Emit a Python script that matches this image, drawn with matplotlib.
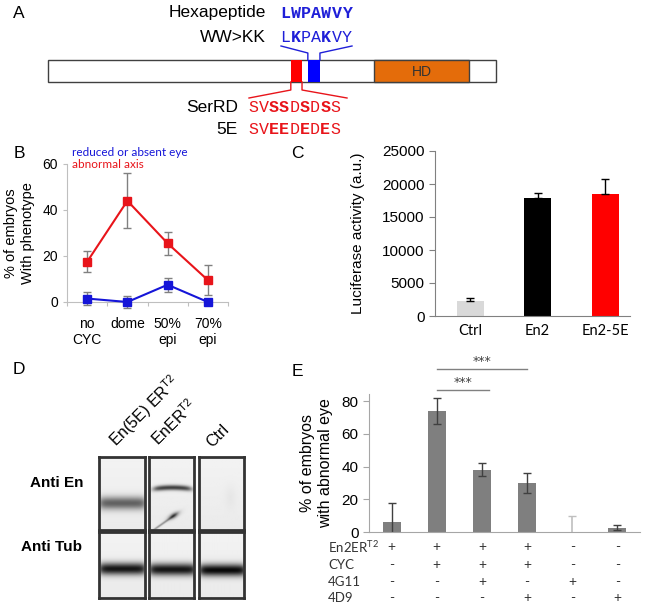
import numpy as np
import matplotlib
matplotlib.use("Agg")
import matplotlib.pyplot as plt
from matplotlib.patches import Rectangle

W, H = 646, 606

# ---- panel A: protein schematic (bar units 0-100)
domains = [("SerRD", 54.2, 56.7, "#FF0000"),
           ("hexa", 58.0, 60.7, "#0000FF"),
           ("HD", 72.8, 94.0, "#E46C0A")]
seq_names = ["Hexapeptide", "WW>KK", "SerRD", "5E"]
seq_strings = ["LWPAWVY", "LKPAKVY", "SVSSDSDSS", "SVEEDEDES"]
seq_bold = ["1111111", "0100100", "001101010", "001101010"]
seq_colors = ["#1F1FD8", "#1F1FD8", "#E8141A", "#E8141A"]

# ---- panel B
stages = ["no\nCYC", "dome", "50%\nepi", "70%\nepi"]
axis_pct = [17.5, 44, 25.5, 9.5]
axis_err = [4.5, 12, 5, 6.5]
eye_pct = [1.5, 0, 7.5, 0]
eye_err = [3, 2.5, 3, 0]

# ---- panel C
luc_labels = ["Ctrl", "En2", "En2-5E"]
luc_vals = [2300, 17900, 18500]
luc_err = [400, 700, 2300]
luc_colors = ["#D9D9D9", "#000000", "#FF0000"]

# ---- panel D: western blot lanes
lane_labels = ["En(5E) ER$^{\\mathregular{T2}}$", "EnER$^{\\mathregular{T2}}$", "Ctrl"]
# bands: (y frac, sigma px, darkness, x0 frac, x1 frac, tilt px, curve px)
en_bands = [[(0.63, 4.5, 0.55, 0.0, 1.0, 0, 0)],
            [(0.42, 1.8, 0.7, 0.1, 0.9, 0, 2.0),
             (0.90, 0.9, 0.35, 0.05, 0.55, -32, 0),
             (0.80, 2.0, 0.9, 0.47, 0.58, -20, 0)],
            [(0.55, 8.0, 0.04, 0.6, 0.75, 0, 0)]]
tub_bands = [[(0.55, 4.3, 0.85, 0.0, 1.0, 0, 0)],
             [(0.56, 4.3, 0.85, 0.0, 1.0, 0, 0)],
             [(0.57, 4.3, 0.9, 0.0, 1.0, 0, 0)]]

# ---- panel E
e_vals = [6, 74, 38, 30, 0, 2.5]
e_err = [11.5, 8, 4, 6, 10, 1.5]
table_rows = ["En2ER$^{\\mathregular{T2}}$", "CYC", "4G11", "4D9"]
table = [["+", "+", "+", "+", "-", "-"],
         ["-", "+", "+", "+", "-", "-"],
         ["-", "-", "+", "-", "+", "-"],
         ["-", "-", "-", "+", "-", "+"]]

ARIAL = "Liberation Sans"
CALIBRI = "Lato"
COURIER = "Liberation Mono"

fig = plt.figure(figsize=(W / 100, H / 100), dpi=100)
fig.patch.set_facecolor("white")


def box(x0, y0, x1, y1):
    # pixel box -> figure fraction rect
    return [x0 / W, 1 - y1 / H, (x1 - x0) / W, (y1 - y0) / H]


ov = fig.add_axes([0, 0, 1, 1], zorder=5)
ov.set_xlim(0, W)
ov.set_ylim(H, 0)
ov.axis("off")
ov.patch.set_alpha(0)

# panel letters
for lab, x, y in [("A", 19, 13), ("B", 19, 153), ("C", 297, 153),
                  ("D", 19, 370), ("E", 297, 372)]:
    ov.text(x, y, lab, fontsize=12.5, family=ARIAL, ha="center", va="center")

# ---- A
bx0, bx1, by0, by1 = 48, 496, 60, 82
sc = (bx1 - bx0) / 100.0
ov.add_patch(Rectangle((bx0, by0), bx1 - bx0, by1 - by0, fc="white",
                       ec="#404040", lw=1))
for name, s, e, c in domains:
    ec = "#404040" if name == "HD" else "none"
    ov.add_patch(Rectangle((bx0 + s * sc, by0), (e - s) * sc, by1 - by0,
                           fc=c, ec=ec, lw=1, zorder=3))
hd = domains[2]
ov.text(bx0 + (hd[1] + hd[2]) / 2 * sc, 72, "HD", fontsize=10, family=ARIAL,
        ha="center", va="center", color="#333333", zorder=4)

ser = domains[0]
hexa = domains[1]
sl, sr = bx0 + ser[1] * sc, bx0 + ser[2] * sc
hl, hr = bx0 + hexa[1] * sc, bx0 + hexa[2] * sc
ov.plot([281, hl, hl], [46, 53, by0], color="#1F1FD8", lw=1)
ov.plot([352, hr, hr], [46, 53, by0], color="#1F1FD8", lw=1)
ov.plot([sl, sl, 249], [by1, 90, 98], color="#E8141A", lw=1)
ov.plot([sr, sr, 347], [by1, 90, 98], color="#E8141A", lw=1)

seq_y = [13, 37, 107, 129]
name_x = [266, 266, 238, 238]
seq_x = [280, 280, 248, 248]
for i in range(4):
    ov.text(name_x[i], seq_y[i], seq_names[i], fontsize=12.5, family=ARIAL,
            ha="right", va="center")
    for j, ch in enumerate(seq_strings[i]):
        ov.text(seq_x[i] + j * 10.3 + 5.15, seq_y[i], ch, fontsize=12,
                family=COURIER,
                weight="bold" if seq_bold[i][j] == "1" else "normal",
                color=seq_colors[i], ha="center", va="center")

# ---- B
ax_b = fig.add_axes(box(67, 164, 228, 302))
ax_b.patch.set_alpha(0)
xb = np.arange(len(stages)) + 0.5
ax_b.errorbar(xb, axis_pct, yerr=axis_err, color="#E8141A", lw=1.5,
              marker="s", ms=6, ecolor="#808080", elinewidth=1, capsize=3,
              clip_on=False, zorder=3)
ax_b.errorbar(xb, eye_pct, yerr=eye_err, color="#1515D8", lw=1.5,
              marker="s", ms=6, ecolor="#808080", elinewidth=1, capsize=3,
              clip_on=False, zorder=3)
ax_b.set_xlim(0, 4)
ax_b.set_ylim(0, 60)
ax_b.set_yticks([0, 20, 40, 60])
ax_b.set_xticks(range(5))
ax_b.set_xticklabels([])
ax_b.set_xticks(xb, minor=True)
ax_b.set_xticklabels(stages, minor=True, fontsize=10, family=ARIAL,
                     linespacing=1.2)
ax_b.tick_params(axis="x", which="minor", length=0, pad=11)
ax_b.tick_params(axis="x", which="major", length=3, color="#BFBFBF")
ax_b.tick_params(axis="y", length=3, color="#BFBFBF", labelsize=10)
for t in ax_b.get_yticklabels():
    t.set_family(ARIAL)
for s in ["top", "right"]:
    ax_b.spines[s].set_visible(False)
for s in ["left", "bottom"]:
    ax_b.spines[s].set_color("#BFBFBF")
ax_b.set_ylabel("% of embryos\nWith phenotype", fontsize=10.5, family=ARIAL,
                labelpad=5, linespacing=1.3)
ov.text(72, 153, "reduced or absent eye", fontsize=8.5, family=CALIBRI,
        color="#1515D8", va="center")
ov.text(72, 165, "abnormal axis", fontsize=8.5, family=CALIBRI,
        color="#E8141A", va="center")

# ---- C
ax_c = fig.add_axes(box(435, 151, 630, 316))
ax_c.patch.set_alpha(0)
xc = np.arange(len(luc_labels))
ax_c.bar(xc, luc_vals, width=0.4, color=luc_colors)
ax_c.errorbar(xc, luc_vals, yerr=[[0] * 3, luc_err], fmt="none",
              ecolor="black", elinewidth=1, capsize=3)
ax_c.set_xlim(-0.52, 2.37)
ax_c.set_ylim(0, 25000)
ax_c.set_yticks(range(0, 25001, 5000))
ax_c.set_xticks(xc)
ax_c.set_xticklabels(luc_labels, fontsize=10.5, family=CALIBRI)
ax_c.tick_params(axis="x", length=0, pad=6)
ax_c.tick_params(axis="y", length=4, color="#808080", labelsize=11)
for t in ax_c.get_yticklabels():
    t.set_family(ARIAL)
for s in ["top", "right"]:
    ax_c.spines[s].set_visible(False)
for s in ["left", "bottom"]:
    ax_c.spines[s].set_color("#808080")
ax_c.set_ylabel("Luciferase activity (a.u.)", fontsize=11, family=ARIAL,
                labelpad=12)

# ---- D
lane_x = [(99, 145), (149, 194), (199, 244)]
rows_y = [(457, 530), (532, 598)]


def blot(h, w, bands):
    yy, xx = np.mgrid[0:h, 0:w].astype(float)
    img = np.full((h, w), 0.95) - 0.03 * (yy / h)
    for yc, sig, dark, x0, x1, tilt, curve in bands:
        u = xx / w
        cy = yc * h + tilt * (u - (x0 + x1) / 2) + curve * ((u - 0.5) * 2) ** 2
        prof = 1 / (1 + np.exp(-(xx - x0 * w) / 2.0))
        prof *= 1 / (1 + np.exp((xx - x1 * w) / 2.0))
        img -= dark * np.exp(-0.5 * ((yy - cy) / sig) ** 2) * prof
    return np.clip(img, 0, 1)


for r, bands_row in enumerate([en_bands, tub_bands]):
    for c in range(3):
        x0, x1 = lane_x[c]
        y0, y1 = rows_y[r]
        axb = fig.add_axes(box(x0, y0, x1, y1))
        axb.imshow(blot(y1 - y0, x1 - x0, bands_row[c]), cmap="gray",
                   vmin=0, vmax=1, aspect="auto", interpolation="bilinear")
        axb.set_xticks([])
        axb.set_yticks([])
        for s in axb.spines.values():
            s.set_color("#333333")
            s.set_linewidth(2)

ov.text(83, 483, "Anti En", fontsize=11, family=ARIAL, weight="bold",
        ha="right", va="center")
ov.text(82, 547, "Anti Tub", fontsize=11, family=ARIAL, weight="bold",
        ha="right", va="center")
for lab, (x, y) in zip(lane_labels, [(116, 447), (159, 447), (212, 448)]):
    ov.text(x, y, lab, fontsize=11.5, family=ARIAL, rotation=45,
            rotation_mode="anchor", ha="left", va="baseline")

# ---- E
ax_e = fig.add_axes(box(369, 394, 640, 532))
ax_e.patch.set_alpha(0)
xe = np.arange(len(e_vals))
ax_e.bar(xe, e_vals, width=0.4, color="#7F7F7F")
dark = [i for i in xe if i != 4]
ax_e.errorbar(xe[dark], np.array(e_vals)[dark], yerr=np.array(e_err)[dark],
              fmt="none", ecolor="#404040", elinewidth=1, capsize=3)
ax_e.errorbar([4], [e_vals[4]], yerr=[e_err[4]], fmt="none",
              ecolor="#BFBFBF", elinewidth=1.2, capsize=3)
ax_e.set_xlim(-0.5, 5.5)
ax_e.set_ylim(0, 84.4)
ax_e.set_yticks([0, 20, 40, 60, 80])
ax_e.set_xticks([])
ax_e.tick_params(axis="y", length=4, color="#A6A6A6", labelsize=11)
for t in ax_e.get_yticklabels():
    t.set_family(ARIAL)
for s in ["top", "right"]:
    ax_e.spines[s].set_visible(False)
for s in ["left", "bottom"]:
    ax_e.spines[s].set_color("#A6A6A6")
ax_e.set_ylabel("% of embryos\nwith abnormal eye", fontsize=11.5,
                family=ARIAL, labelpad=6, linespacing=1.25)

ax_e.plot([1, 3], [99.7, 99.7], color="#808080", lw=1, clip_on=False)
ax_e.plot([1, 2.15], [86.8, 86.8], color="#808080", lw=1, clip_on=False)
ax_e.text(2, 104.5, "***", fontsize=9, ha="center", va="center",
          color="#404040")
ax_e.text(1.58, 91.5, "***", fontsize=9, ha="center", va="center",
          color="#404040")

trans = ax_e.get_xaxis_transform()
row_y = [547, 565, 582, 598]
for r in range(4):
    fy = (532 - row_y[r]) / (532 - 394)
    ov.text(328, row_y[r], table_rows[r], fontsize=9.5, family=CALIBRI,
            ha="left", va="center", color="#333333")
    for c in range(6):
        ax_e.text(xe[c], fy, table[r][c], fontsize=10, family=CALIBRI,
                  ha="center", va="center", color="#333333",
                  transform=trans, clip_on=False)

fig.savefig("out.png", dpi=100)
